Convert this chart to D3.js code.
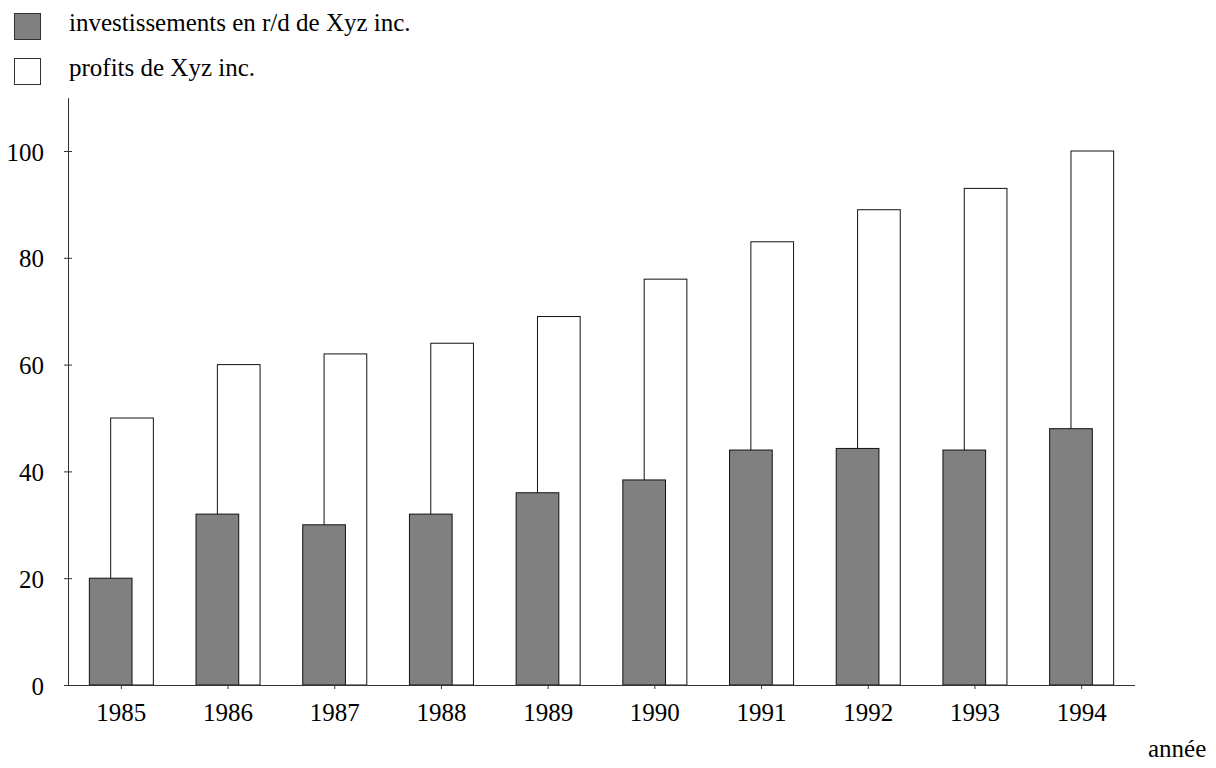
<!DOCTYPE html>
<html>
<head>
<meta charset="utf-8">
<script src="https://cdn.jsdelivr.net/npm/d3@7"></script>
<style>
  html, body { margin: 0; padding: 0; background: #fff; }
  svg { display: block; font-family: "Liberation Serif", "Times New Roman", serif; }
</style>
</head>
<body>
<svg id="chart" width="1216" height="768"></svg>
<script>
// Years on the horizontal axis
const years = ["1985", "1986", "1987", "1988", "1989", "1990", "1991", "1992", "1993", "1994"];
// R&D spending (grey bars)
const rdValues = [20, 32, 30, 32, 36, 38.4, 44, 44.3, 44, 48];
// Profits (white bars)
const profitValues = [50, 60, 62, 64, 69, 76, 83, 89, 93, 100];
// Series names shown in the legend
const seriesNames = ["investissements en r/d de Xyz inc.", "profits de Xyz inc."];
// Y tick values
const yTicks = [0, 20, 40, 60, 80, 100];
const xTitle = "année";

const svg = d3.select("#chart");
const fontSize = 25;

const x = d3.scaleBand().domain(years).range([68, 1135]).padding(0);
const y = d3.scaleLinear().domain([0, 110]).range([685, 97.6]);

const step = x.bandwidth();
const barW = step * 0.4;

// Profit bars (behind), shifted right by half a bar
svg.append("g").selectAll("rect")
  .data(years.map((yr, i) => ({ yr, v: profitValues[i] })))
  .join("rect")
  .attr("x", d => x(d.yr) + step / 2 - step * 0.1)
  .attr("y", d => y(d.v))
  .attr("width", barW)
  .attr("height", d => y(0) - y(d.v))
  .attr("fill", "#fff")
  .attr("stroke", "#111")
  .attr("stroke-width", 1);

// R&D bars (front)
svg.append("g").selectAll("rect")
  .data(years.map((yr, i) => ({ yr, v: rdValues[i] })))
  .join("rect")
  .attr("x", d => x(d.yr) + step / 2 - step * 0.3)
  .attr("y", d => y(d.v))
  .attr("width", barW)
  .attr("height", d => y(0) - y(d.v))
  .attr("fill", "#808080")
  .attr("stroke", "#111")
  .attr("stroke-width", 1);

// Y axis with ticks crossing the line
const yAxis = svg.append("g")
  .attr("transform", "translate(68,0)")
  .call(d3.axisLeft(y).tickValues(yTicks).tickSize(4).tickPadding(20).tickSizeOuter(0));
yAxis.select(".domain").attr("stroke", "#333");
yAxis.selectAll(".tick line").attr("x1", -4).attr("x2", 4).attr("stroke", "#333");
yAxis.selectAll(".tick text")
  .attr("font-size", fontSize)
  .attr("font-family", "Liberation Serif")
  .attr("fill", "#000")
  .attr("dy", "0.36em");

// X axis
const xAxis = svg.append("g")
  .attr("transform", "translate(0,685)")
  .call(d3.axisBottom(x).tickSize(4).tickPadding(14).tickSizeOuter(0));
xAxis.select(".domain").attr("d", "M65,0.5H1135").attr("stroke", "#333");
xAxis.selectAll(".tick line").attr("stroke", "#333");
xAxis.selectAll(".tick text")
  .attr("font-size", fontSize)
  .attr("font-family", "Liberation Serif")
  .attr("fill", "#000")
  .attr("dy", "0.71em");

// X axis title
svg.append("text")
  .attr("x", 1148)
  .attr("y", 757)
  .attr("font-size", fontSize)
  .attr("fill", "#000")
  .text(xTitle);

// Legend
const legendFills = ["#808080", "#fff"];
const legend = svg.append("g");
seriesNames.forEach((name, i) => {
  const top = 13 + i * 45;
  legend.append("rect")
    .attr("x", 14.5).attr("y", top + 0.5)
    .attr("width", 26).attr("height", 26)
    .attr("fill", legendFills[i])
    .attr("stroke", "#333");
  legend.append("text")
    .attr("x", 69)
    .attr("y", top + 18)
    .attr("font-size", fontSize)
    .attr("fill", "#000")
    .text(name);
});
</script>
</body>
</html>
